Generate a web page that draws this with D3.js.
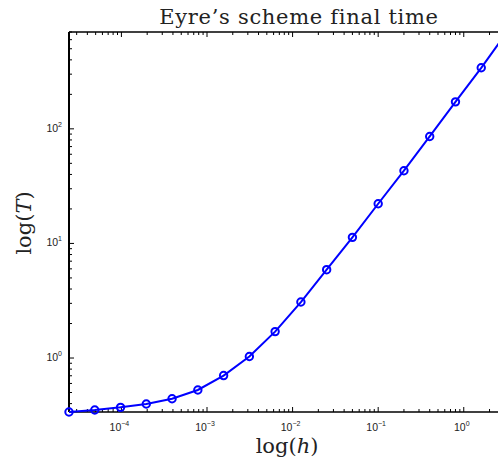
<!DOCTYPE html>
<html>
<head>
<meta charset="utf-8">
<script src="https://cdn.jsdelivr.net/npm/d3@7"></script>
<style>
  body { margin: 0; background: #fff; }
  svg { display: block; }
  .tick-label { font-family: "Liberation Sans", Arial, sans-serif; font-size: 10.5px; fill: #222; }
  .tex { font-family: "DejaVu Serif", "Liberation Serif", serif; fill: #222; }
</style>
</head>
<body>
<div id="chart"></div>
<script>
// step sizes h = 0.1 * 2^k, k = -12..5
const hValues = [2.441e-5, 4.883e-5, 9.766e-5, 1.953e-4, 3.906e-4, 7.813e-4, 1.563e-3, 3.125e-3,
  6.25e-3, 0.0125, 0.025, 0.05, 0.1, 0.2, 0.4, 0.8, 1.6, 3.2];
const finalTimes = [0.338, 0.352, 0.371, 0.397, 0.441, 0.526, 0.703, 1.03,
  1.70, 3.08, 5.90, 11.3, 22.2, 43.1, 85.8, 172, 341, 700];
const xTickExps = [-4, -3, -2, -1, 0];
const yTickExps = [0, 1, 2];

const width = 498;
const height = 463;
const plotLeft = 69, plotRight = 507, plotTop = 32, plotBottom = 412;

const svg = d3.select("#chart")
  .append("svg")
  .attr("width", width)
  .attr("height", height);

const x = d3.scaleLog()
  .domain([d3.min(hValues), d3.max(hValues)])
  .range([plotLeft, plotRight]);

const y = d3.scaleLog()
  .domain([d3.min(finalTimes), d3.max(finalTimes)])
  .range([plotBottom, plotTop]);

// minor ticks: 1..9 times each decade inside the domain
function logTicks(scale) {
  const [a, b] = scale.domain();
  const out = [];
  for (let e = Math.floor(Math.log10(a)); e <= Math.ceil(Math.log10(b)); e++) {
    for (let m = 1; m <= 9; m++) {
      const v = m * Math.pow(10, e);
      if (v >= a * 0.999 && v <= b * 1.001) out.push({ v, major: m === 1 });
    }
  }
  return out;
}

const axes = svg.append("g").attr("stroke", "#000").attr("fill", "none");

const xt = logTicks(x);
const yt = logTicks(y);

// bottom and top ticks (pointing inward)
axes.selectAll(".xb").data(xt).enter().append("line")
  .attr("x1", d => x(d.v)).attr("x2", d => x(d.v))
  .attr("y1", plotBottom).attr("y2", d => plotBottom - (d.major ? 5 : 3))
  .attr("stroke-width", 1);
axes.selectAll(".xt").data(xt).enter().append("line")
  .attr("x1", d => x(d.v)).attr("x2", d => x(d.v))
  .attr("y1", plotTop).attr("y2", d => plotTop + (d.major ? 5 : 3))
  .attr("stroke-width", 1);
axes.selectAll(".yl").data(yt).enter().append("line")
  .attr("y1", d => y(d.v)).attr("y2", d => y(d.v))
  .attr("x1", plotLeft).attr("x2", d => plotLeft + (d.major ? 5 : 3))
  .attr("stroke-width", 1);

axes.append("line").attr("x1", plotLeft).attr("x2", plotRight).attr("y1", plotBottom).attr("y2", plotBottom).attr("stroke-width", 1.5);
axes.append("line").attr("x1", plotLeft).attr("x2", plotRight).attr("y1", plotTop).attr("y2", plotTop).attr("stroke-width", 1.5);
axes.append("line").attr("x1", plotLeft).attr("x2", plotLeft).attr("y1", plotTop).attr("y2", plotBottom).attr("stroke-width", 2);
axes.append("line").attr("x1", plotRight).attr("x2", plotRight).attr("y1", plotTop).attr("y2", plotBottom).attr("stroke-width", 1.5);

// tick labels
const xl = svg.selectAll(".xlab").data(xTickExps).enter().append("text")
  .attr("class", "tick-label")
  .attr("x", d => x(Math.pow(10, d)) - 2)
  .attr("y", 431)
  .attr("text-anchor", "middle");
xl.append("tspan").text("10");
xl.append("tspan").attr("dy", -5).attr("font-size", "7px").text(d => d < 0 ? "\u2212" + (-d) : d);

const yl = svg.selectAll(".ylab").data(yTickExps).enter().append("text")
  .attr("class", "tick-label")
  .attr("x", 62)
  .attr("y", d => y(Math.pow(10, d)) + 3)
  .attr("text-anchor", "end");
yl.append("tspan").text("10");
yl.append("tspan").attr("dy", -5).attr("font-size", "7px").text(d => d);

// line and markers
const line = d3.line().x((d, i) => x(hValues[i])).y(d => y(d));

svg.append("path")
  .datum(finalTimes)
  .attr("d", line)
  .attr("fill", "none")
  .attr("stroke", "#0000ff")
  .attr("stroke-width", 2);

svg.selectAll(".pt").data(finalTimes).enter().append("circle")
  .attr("cx", (d, i) => x(hValues[i]))
  .attr("cy", d => y(d))
  .attr("r", 3.7)
  .attr("fill", "none")
  .attr("stroke", "#0000ff")
  .attr("stroke-width", 2);

// title and axis labels
svg.append("text").attr("class", "tex")
  .attr("x", 299).attr("y", 24)
  .attr("text-anchor", "middle")
  .attr("font-size", "21px")
  .attr("letter-spacing", "0.7px")
  .text("Eyre\u2019s scheme final time");

const xlab = svg.append("text").attr("class", "tex")
  .attr("x", 287).attr("y", 453)
  .attr("text-anchor", "middle")
  .attr("font-size", "21px");
xlab.append("tspan").text("log(");
xlab.append("tspan").attr("font-style", "italic").text("h");
xlab.append("tspan").text(")");

const ylab = svg.append("text").attr("class", "tex")
  .attr("transform", "translate(31,223) rotate(-90)")
  .attr("text-anchor", "middle")
  .attr("font-size", "21px");
ylab.append("tspan").text("log(");
ylab.append("tspan").attr("font-style", "italic").text("T");
ylab.append("tspan").text(")");
</script>
</body>
</html>
